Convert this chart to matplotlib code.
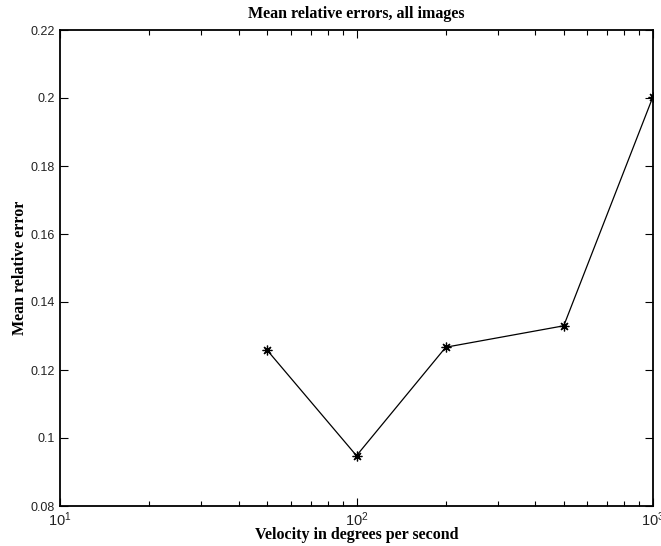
import numpy as np
from matplotlib import pyplot as plt

velocity = [50, 100, 200, 500, 1000]
mean_err = [0.1258, 0.0948, 0.1267, 0.1330, 0.2004]

y_ticks = [0.08, 0.1, 0.12, 0.14, 0.16, 0.18, 0.2, 0.22]
y_labels = ['0.08', '0.1', '0.12', '0.14', '0.16', '0.18', '0.2', '0.22']

plt.rcParams['font.family'] = ['Liberation Sans', 'DejaVu Sans']
plt.rcParams['mathtext.fontset'] = 'custom'
plt.rcParams['mathtext.rm'] = 'Liberation Sans'
plt.rcParams['mathtext.it'] = 'Liberation Sans'

fig = plt.figure(figsize=(6.61, 5.46), dpi=100)
ax = fig.add_axes([60/661, 1 - 506/546, (653 - 60)/661, (506 - 30)/546])

ax.plot(velocity, mean_err, color='black', linewidth=0.9,
        marker=(8, 2, 0), markersize=7, markeredgewidth=0.9)

ax.set_xscale('log')
ax.set_xlim(10, 1000)
ax.set_ylim(0.08, 0.22)
ax.set_yticks(y_ticks)
ax.set_yticklabels(y_labels)

ax.tick_params(which='both', direction='in', top=True, right=True,
               colors='black', labelcolor='#222222')
ax.tick_params(axis='y', labelsize=9)
ax.tick_params(axis='x', labelsize=10.5, pad=3)
ax.tick_params(which='major', length=6, width=0.8)
ax.tick_params(which='minor', length=3.5, width=0.8)
for s in ax.spines.values():
    s.set_linewidth(1.3)

serif = ['Liberation Serif', 'DejaVu Serif']
ax.set_title('Mean relative errors, all images', family=serif,
             fontweight='bold', fontsize=11.5, pad=9)
ax.set_xlabel('Velocity in degrees per second', family=serif,
              fontweight='bold', fontsize=11.5, labelpad=-1)
ax.set_ylabel('Mean relative error', family=serif,
              fontweight='bold', fontsize=11.5, labelpad=2)

fig.savefig('out.png', dpi=100)
